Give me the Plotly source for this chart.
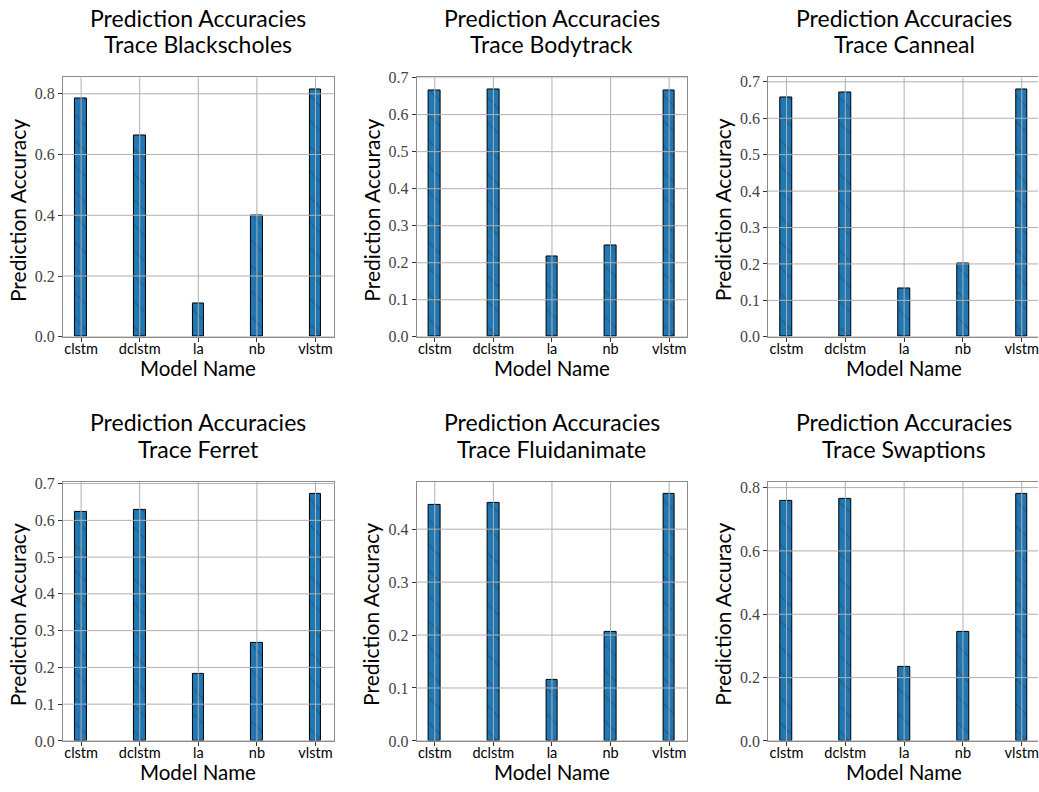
import numpy as np
import plotly.graph_objects as go

models = ["clstm", "dclstm", "la", "nb", "vlstm"]
traces = ["Blackscholes", "Bodytrack", "Canneal", "Ferret", "Fluidanimate", "Swaptions"]
acc_blackscholes = [0.784, 0.663, 0.109, 0.399, 0.813]
acc_bodytrack = [0.666, 0.667, 0.218, 0.247, 0.666]
acc_canneal = [0.658, 0.671, 0.134, 0.202, 0.678]
acc_ferret = [0.624, 0.628, 0.182, 0.266, 0.671]
acc_fluidanimate = [0.445, 0.449, 0.115, 0.206, 0.466]
acc_swaptions = [0.758, 0.765, 0.234, 0.344, 0.779]
all_acc = [acc_blackscholes, acc_bodytrack, acc_canneal, acc_ferret, acc_fluidanimate, acc_swaptions]
dticks = [0.2, 0.1, 0.1, 0.1, 0.1, 0.2]

W, H = 1039, 792
col_px = [(63, 334), (417, 688), (769, 1041)]
row_px = [(71, 336), (484.3, 749)]

SANS = "Lato"
SERIF = "Liberation Serif"
GRID = "#b0b0b0"
SPINE = "#8c8c8c"

fig = go.Figure()
x_idx = list(range(len(models)))
annotations = []
shapes = []

for i, (name, vals) in enumerate(zip(traces, all_acc)):
    r, c = divmod(i, 3)
    n = i + 1
    xa = "x" if n == 1 else f"x{n}"
    ya = "y" if n == 1 else f"y{n}"
    x0p, x1p = col_px[c]
    y0p, y1p = row_px[r]
    x1c = min(x1p, W)
    xr0, xr1 = -0.31, 4.31
    xr1c = xr0 + (xr1 - xr0) * (x1c - x0p) / (x1p - x0p)
    ymax = 1.05 * max(vals)

    fig.add_trace(go.Bar(
        x=x_idx, y=vals, width=0.2, xaxis=xa, yaxis=ya,
        marker=dict(color="#1f77b4", line=dict(color="black", width=1),
                    pattern=dict(shape="\\", fgcolor="#1b4a6b", size=18, solidity=0.07)),
        showlegend=False,
    ))
    dom_x = [x0p / W, x1c / W]
    dom_y = [1 - y1p / H, 1 - y0p / H]
    fig.layout[f"xaxis{'' if n == 1 else n}"] = dict(
        domain=dom_x, anchor=ya, range=[xr0, xr1c], tickvals=x_idx, ticktext=models,
        showgrid=False, zeroline=False, showline=True, mirror=True, linecolor=SPINE, linewidth=1,
        ticks="outside", ticklen=4, tickcolor="#333", tickwidth=1,
        ticklabeloverflow="allow", ticklabelstandoff=-5,
        tickfont=dict(family=SANS, size=14.5, color="black"),
    )
    fig.layout[f"yaxis{'' if n == 1 else n}"] = dict(
        domain=dom_y, anchor=xa, range=[0, ymax], dtick=dticks[i], tick0=0, tickformat=".1f",
        showgrid=False, zeroline=False, showline=True, mirror=(c != 2), linecolor=SPINE, linewidth=1,
        ticks="outside", ticklen=4, tickcolor="#333", tickwidth=1,
        tickfont=dict(family=SERIF, size=16, color="#444"),
    )
    # grid lines drawn above bars, as in the reference
    for t in np.arange(0, ymax, dticks[i]):
        shapes.append(dict(type="line", xref=f"{xa} domain", yref=ya, x0=0, x1=1, y0=t, y1=t,
                           line=dict(color=GRID, width=1), layer="above"))
    for xv in x_idx:
        shapes.append(dict(type="line", xref=xa, yref=f"{ya} domain", x0=xv, x1=xv, y0=0, y1=1,
                           line=dict(color=GRID, width=1), layer="above"))

    cx = (x0p + x1p) / 2 / W
    for line_txt, dy in (("Prediction Accuracies", 61), (f"Trace {name}", 34)):
        annotations.append(dict(
            text=line_txt, xref="paper", yref="paper",
            x=cx, y=1 - (y0p - dy) / H, xanchor="center", yanchor="middle", showarrow=False,
            font=dict(family=SANS, size=23, color="black"),
        ))
    annotations.append(dict(
        text="Prediction Accuracy", xref="paper", yref="paper", textangle=-90,
        x=(x0p - 46) / W, y=1 - ((y0p + y1p) / 2 + 3) / H, xanchor="center", yanchor="middle",
        showarrow=False, font=dict(family=SANS, size=21, color="black"),
    ))
    annotations.append(dict(
        text="Model Name", xref="paper", yref="paper",
        x=cx, y=1 - (y1p + 32) / H, xanchor="center", yanchor="middle",
        showarrow=False, font=dict(family=SANS, size=20.5, color="black"),
    ))

fig.update_layout(
    width=W, height=H, margin=dict(l=0, r=0, t=0, b=0),
    paper_bgcolor="white", plot_bgcolor="white",
    annotations=annotations, shapes=shapes, bargap=0,
)
fig.write_html("out.html", config={"displayModeBar": False},
               post_script="document.body.style.margin='0';document.body.style.overflow='hidden';")
